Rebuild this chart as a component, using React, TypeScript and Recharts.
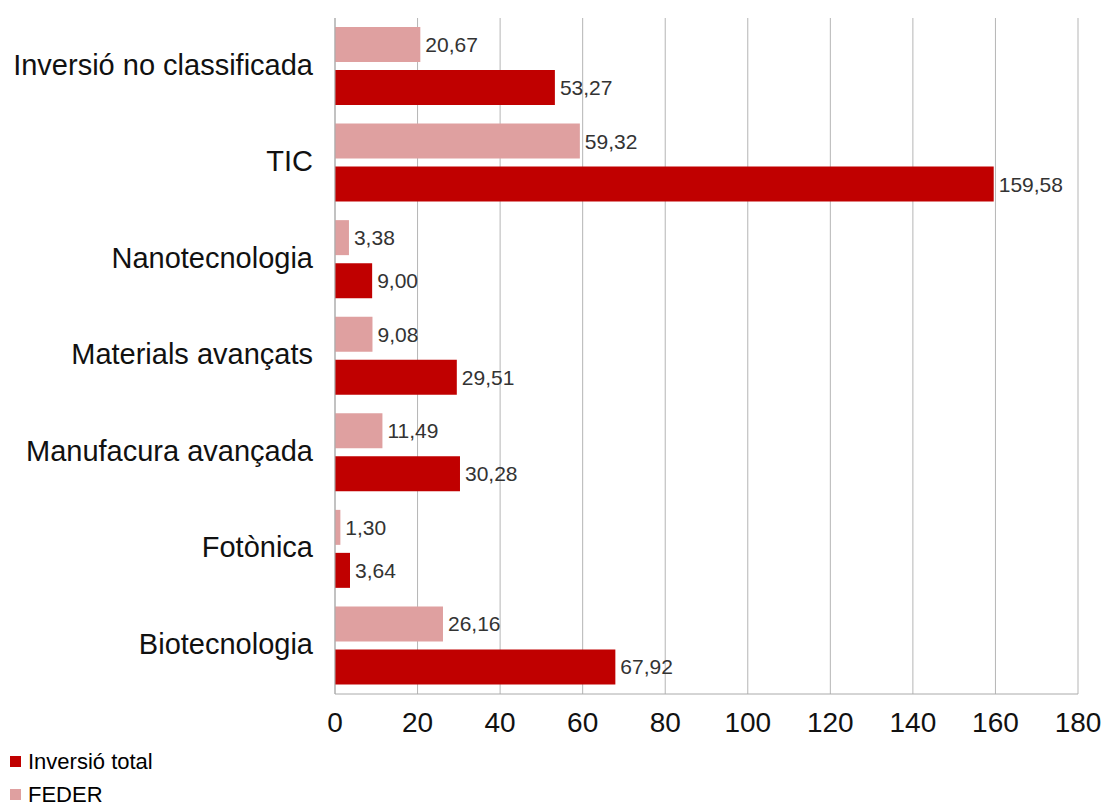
import { BarChart, Bar, XAxis, YAxis, CartesianGrid, LabelList, Legend } from "recharts";

const categories = [
  "Inversió no classificada",
  "TIC",
  "Nanotecnologia",
  "Materials avançats",
  "Manufacura avançada",
  "Fotònica",
  "Biotecnologia",
];
const feder = [20.67, 59.32, 3.38, 9.08, 11.49, 1.3, 26.16];
const inversioTotal = [53.27, 159.58, 9.0, 29.51, 30.28, 3.64, 67.92];
const xTicks = [0, 20, 40, 60, 80, 100, 120, 140, 160, 180];

const data = categories.map((name, i) => ({
  name,
  feder: feder[i],
  total: inversioTotal[i],
}));

const DARK = "#c00000";
const PINK = "#dfa0a0";
const FONT = "'Liberation Sans', Arial, sans-serif";

const legendItems = [
  { label: "Inversió total", color: DARK },
  { label: "FEDER", color: PINK },
];

const fmt = (v: any) => Number(v).toFixed(2).replace(".", ",");

const ChartLegend = () => (
  <div style={{ fontFamily: FONT, fontSize: 22, color: "#000" }}>
    {legendItems.map((it) => (
      <div key={it.label} style={{ display: "flex", alignItems: "center", height: 33 }}>
        <span style={{ width: 11, height: 11, background: it.color, display: "inline-block", marginRight: 7 }} />
        <span>{it.label}</span>
      </div>
    ))}
  </div>
);

const App = () => {
  return (
    <div style={{ position: "absolute", left: 0, top: 0 }}>
      <BarChart
        width={1105}
        height={806}
        data={data}
        layout="vertical"
        margin={{ top: 18, right: 27, left: 0, bottom: 72 }}
        barSize={35}
        barGap={8}
      >
        <CartesianGrid horizontal={false} stroke="#b5b5b5" />
        <XAxis
          type="number"
          domain={[0, 180]}
          ticks={xTicks}
          height={40}
          tickSize={0}
          tickMargin={18}
          axisLine={{ stroke: "#aaaaaa" }}
          tick={{ fontSize: 28, fill: "#111", fontFamily: FONT }}
        />
        <YAxis
          type="category"
          dataKey="name"
          width={335}
          tickSize={0}
          tickMargin={22}
          axisLine={{ stroke: "#aaaaaa" }}
          tick={{ fontSize: 29, fill: "#111", fontFamily: FONT, dy: -2 }}
        />
        <Legend
          layout="vertical"
          align="center"
          verticalAlign="middle"
          wrapperStyle={{ left: 10, top: 745, width: 300, height: 66 }}
          content={() => <ChartLegend />}
        />
        <Bar dataKey="feder" name="FEDER" fill={PINK} isAnimationActive={false}>
          <LabelList
            dataKey="feder"
            position="right"
            offset={5}
            formatter={fmt}
            style={{ fontSize: 21, fill: "#333", fontFamily: FONT }}
          />
        </Bar>
        <Bar dataKey="total" name="Inversió total" fill={DARK} isAnimationActive={false}>
          <LabelList
            dataKey="total"
            position="right"
            offset={5}
            formatter={fmt}
            style={{ fontSize: 21, fill: "#333", fontFamily: FONT }}
          />
        </Bar>
      </BarChart>
    </div>
  );
};

export default App;
